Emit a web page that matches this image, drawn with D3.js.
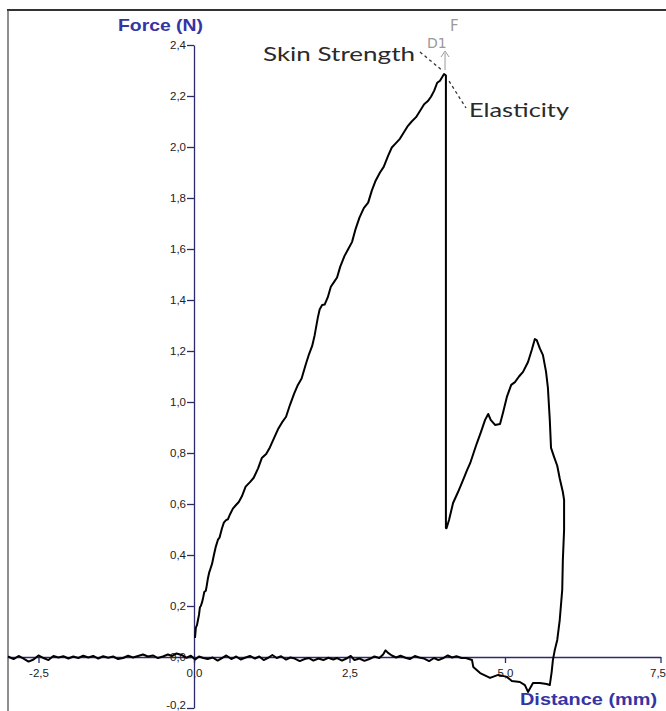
<!DOCTYPE html>
<html>
<head>
<meta charset="utf-8">
<script src="https://cdn.jsdelivr.net/npm/d3@7"></script>
<style>
  html, body { margin: 0; padding: 0; background: #fff; }
  svg { display: block; }
</style>
</head>
<body>
<svg id="chart" width="666" height="711"></svg>
<script>
// ---- data (distance in mm, force in N) ----
const riseDistance = [0.016,0.03,0.048,0.06,0.08,0.095,0.11,0.13,0.145,0.165,0.19,0.205,0.225,0.245,0.27,0.29,0.32,0.35,0.385,0.41,0.45,0.48,0.515,0.545,0.58,0.625,0.675,0.72,0.77,0.83,0.9,0.96,1.03,1.09,1.16,1.22,1.29,1.35,1.415,1.48,1.545,1.61,1.67,1.73,1.8,1.85,1.9,1.94,1.99,2.02,2.06,2.1,2.15,2.2,2.25,2.3,2.35,2.42,2.48,2.54,2.6,2.66,2.73,2.8,2.86,2.92,2.99,3.05,3.12,3.18,3.25,3.31,3.38,3.44,3.5,3.57,3.63,3.7,3.76,3.81,3.86,3.91,3.955,4.02,4.05];
const riseForce    = [0.075,0.115,0.125,0.14,0.165,0.195,0.2,0.215,0.23,0.255,0.26,0.28,0.31,0.332,0.35,0.365,0.40,0.432,0.46,0.468,0.505,0.527,0.537,0.54,0.56,0.582,0.596,0.608,0.63,0.668,0.686,0.703,0.74,0.78,0.796,0.822,0.86,0.893,0.92,0.942,0.99,1.033,1.067,1.092,1.15,1.188,1.22,1.262,1.33,1.363,1.38,1.382,1.41,1.452,1.47,1.488,1.53,1.573,1.6,1.627,1.68,1.723,1.76,1.782,1.83,1.868,1.9,1.922,1.965,1.998,2.016,2.032,2.06,2.083,2.1,2.117,2.14,2.168,2.18,2.197,2.22,2.252,2.26,2.286,2.28];

const humpDistance = [4.05,4.06,4.1,4.165,4.245,4.325,4.39,4.44,4.5,4.55,4.61,4.68,4.73,4.77,4.84,4.92,4.97,5.03,5.1,5.16,5.225,5.29,5.37,5.43,5.48,5.51,5.56,5.61,5.66,5.69,5.72,5.74,5.79,5.84,5.88,5.93,5.95,5.95,5.93,5.92,5.88,5.84,5.80,5.77,5.75,5.72];
const humpForce    = [0.506,0.505,0.537,0.604,0.647,0.694,0.733,0.76,0.804,0.84,0.88,0.93,0.953,0.93,0.91,0.914,0.96,1.02,1.067,1.078,1.1,1.118,1.157,1.204,1.247,1.243,1.21,1.184,1.118,1.055,0.93,0.82,0.784,0.75,0.70,0.647,0.616,0.498,0.38,0.263,0.145,0.067,0.027,-0.012,-0.059,-0.11];

const returnDistance = [5.67,5.56,5.45,5.37,5.32,5.24,5.11,5.03,4.89,4.76,4.6,4.49,4.47,4.37,4.30,4.22,4.15,4.08,4.00,3.93,3.86,3.78,3.70,3.62,3.55,3.47,3.40,3.32,3.25,3.18,3.12,3.08,3.04,2.98,2.90,2.82,2.74,2.66,2.58,2.52,2.45,2.38,2.30,2.24,2.16,2.08,2.00,1.92,1.85,1.78,1.70,1.62,1.55,1.48,1.40,1.33,1.26,1.20,1.12,1.05,0.98,0.90,0.82,0.75,0.68,0.60,0.52,0.45,0.38,0.30,0.22,0.15,0.08,0.02,-0.05,-0.12,-0.20,-0.28,-0.35,-0.42,-0.50,-0.58,-0.66,-0.74,-0.82,-0.90,-0.98,-1.06,-1.14,-1.22,-1.30,-1.38,-1.46,-1.54,-1.62,-1.70,-1.78,-1.86,-1.94,-2.02,-2.10,-2.18,-2.26,-2.34,-2.42,-2.50,-2.58,-2.66,-2.74,-2.82,-2.90,-2.99];
const returnForce    = [-0.106,-0.102,-0.102,-0.137,-0.11,-0.098,-0.094,-0.078,-0.07,-0.082,-0.063,-0.039,-0.012,-0.004,-0.004,0.003,-0.002,0.006,-0.005,-0.012,-0.004,-0.016,-0.006,-0.002,0.004,-0.008,-0.003,0.005,-0.002,0.006,0.016,0.026,0.01,-0.004,0.002,-0.008,-0.015,-0.006,-0.012,0.004,-0.006,-0.014,-0.004,-0.01,-0.003,-0.012,-0.006,-0.014,-0.004,-0.008,-0.016,-0.006,-0.002,-0.01,0.003,-0.004,0.008,-0.002,-0.012,0.002,-0.006,0.004,-0.003,-0.01,0.002,-0.008,0.006,-0.004,-0.014,-0.002,-0.008,-0.004,0.002,-0.01,0.005,-0.003,0.008,0.014,0.004,0.01,0.002,-0.004,0.006,0.002,0.01,0.004,-0.002,0.005,-0.004,-0.008,0.002,-0.003,0.003,-0.006,0.004,-0.002,0.005,-0.004,0.002,-0.006,0.003,-0.002,0.004,-0.012,-0.004,0.006,-0.01,-0.018,-0.006,0.004,-0.008,0.002];

const xTicks = [-2.5, 0, 2.5, 5, 7.5];
const yTicks = [-0.2, 0, 0.2, 0.4, 0.6, 0.8, 1.0, 1.2, 1.4, 1.6, 1.8, 2.0, 2.2, 2.4];

const xTitle = "Distance (mm)";
const yTitle = "Force (N)";
const peakLabel = "Skin Strength";
const slopeLabel = "Elasticity";

// ---- build ----
const svg = d3.select("#chart");
const x = d3.scaleLinear().domain([-3, 7.5]).range([7.4, 660.5]);
const y = d3.scaleLinear().domain([-0.2, 2.4]).range([708, 45]);
const fmt = v => d3.format(".1f")(v).replace("\u2212", "-").replace(".", ",");
const axisColor = "#2b2b6c";

// frame
svg.append("line").attr("x1", 7).attr("x2", 666).attr("y1", 10).attr("y2", 10)
  .attr("stroke", "#333").attr("stroke-width", 2);
svg.append("line").attr("x1", 8).attr("x2", 8).attr("y1", 10).attr("y2", 711)
  .attr("stroke", "#444").attr("stroke-width", 1.2);

// x axis
const gx = svg.append("g").attr("transform", `translate(0,${y(0)})`)
  .call(d3.axisBottom(x).tickValues(xTicks).tickSize(6).tickSizeOuter(0).tickFormat(fmt));
gx.select(".domain").attr("stroke", axisColor).attr("stroke-width", 1.3);
gx.selectAll(".tick line").attr("stroke", axisColor).attr("stroke-width", 1.3);
gx.selectAll(".tick text").attr("font-family", "'Liberation Sans', Arial, sans-serif")
  .attr("font-size", 11.5).attr("fill", "#222").attr("dy", "0.95em")
  .attr("dx", d => d === 7.5 ? -3 : 0);

// y axis
const gy = svg.append("g").attr("transform", `translate(${x(0)},0)`)
  .call(d3.axisLeft(y).tickValues(yTicks).tickSize(7).tickSizeOuter(0).tickFormat(fmt));
gy.select(".domain").attr("stroke", axisColor).attr("stroke-width", 1.3);
gy.selectAll(".tick line").attr("stroke", axisColor).attr("stroke-width", 1.3);
gy.selectAll(".tick text").attr("font-family", "'Liberation Sans', Arial, sans-serif")
  .attr("font-size", 11.5).attr("fill", "#222").attr("x", -8)
  .attr("dy", d => d === -0.2 ? "0.05em" : "0.32em");

// trace
const pts = [];
riseDistance.forEach((d, i) => pts.push([d, riseForce[i]]));
humpDistance.forEach((d, i) => pts.push([d, humpForce[i]]));
returnDistance.forEach((d, i) => pts.push([d, returnForce[i]]));
const line = d3.line().x(d => x(d[0])).y(d => y(d[1]));
svg.append("path").datum(pts).attr("d", line)
  .attr("fill", "none").attr("stroke", "#000").attr("stroke-width", 2)
  .attr("stroke-linejoin", "round");

// axis titles
svg.append("text").attr("x", 118).attr("y", 31).text(yTitle)
  .attr("font-family", "'Liberation Sans', Arial, sans-serif").attr("font-weight", "bold")
  .attr("font-size", 17).attr("fill", "#3434a4")
  .attr("textLength", 85).attr("lengthAdjust", "spacingAndGlyphs");
svg.append("text").attr("x", 520).attr("y", 705).text(xTitle)
  .attr("font-family", "'Liberation Sans', Arial, sans-serif").attr("font-weight", "bold")
  .attr("font-size", 17).attr("fill", "#3434a4")
  .attr("textLength", 137).attr("lengthAdjust", "spacingAndGlyphs");

// annotations
const peakX = x(riseDistance[riseDistance.length - 2]);
const peakY = y(riseForce[riseForce.length - 2]);
svg.append("text").attr("x", 263).attr("y", 61).text(peakLabel)
  .attr("font-family", "Lato, 'Open Sans', sans-serif").attr("font-size", 20).attr("fill", "#2a2a2a")
  .attr("textLength", 152).attr("lengthAdjust", "spacingAndGlyphs");
svg.append("text").attr("x", 469).attr("y", 117).text(slopeLabel)
  .attr("font-family", "Lato, 'Open Sans', sans-serif").attr("font-size", 20).attr("fill", "#2a2a2a")
  .attr("textLength", 100).attr("lengthAdjust", "spacingAndGlyphs");
svg.append("line").attr("x1", 420).attr("y1", 52).attr("x2", peakX - 1).attr("y2", peakY - 3)
  .attr("stroke", "#333").attr("stroke-width", 1.3).attr("stroke-dasharray", "3,3");
svg.append("line").attr("x1", peakX + 5).attr("y1", peakY + 7).attr("x2", 466).attr("y2", 108)
  .attr("stroke", "#333").attr("stroke-width", 1.3).attr("stroke-dasharray", "3,3");
svg.append("text").attr("x", 427).attr("y", 48).text("D1")
  .attr("font-family", "'DejaVu Sans', sans-serif").attr("font-size", 14).attr("fill", "#9a9a9a");
svg.append("text").attr("x", 450).attr("y", 31).text("F")
  .attr("font-family", "'DejaVu Sans', sans-serif").attr("font-size", 15).attr("fill", "#9a9a9a");
// small gray arrow
svg.append("line").attr("x1", peakX + 1).attr("x2", peakX + 1).attr("y1", 53).attr("y2", peakY - 4)
  .attr("stroke", "#9a9a9a").attr("stroke-width", 1);
svg.append("path").attr("d", `M${peakX - 3},${57}L${peakX + 1},${51}L${peakX + 5},${57}`)
  .attr("fill", "none").attr("stroke", "#9a9a9a").attr("stroke-width", 1);
</script>
</body>
</html>
